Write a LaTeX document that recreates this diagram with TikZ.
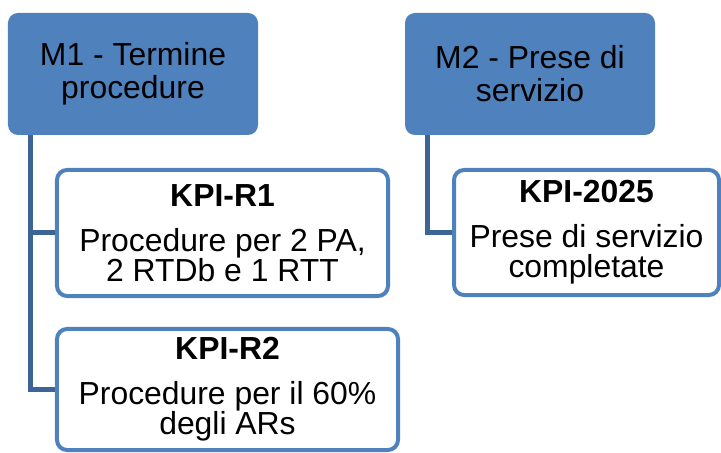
\documentclass[tikz,border=0pt]{standalone}
\usepackage{fontspec}
\setmainfont{Liberation Sans}
\definecolor{accentblue}{HTML}{4F81BD}
\definecolor{linkblue}{HTML}{3C6494}

\begin{document}
\begin{tikzpicture}[x=1bp, y=-1bp,
    goal/.style = {fill=accentblue, rounded corners=10bp, align=center,
                   minimum width=250bp, minimum height=122bp, inner sep=0pt,
                   font=\fontsize{32}{33}\selectfont},
    kpi/.style = {draw=accentblue, line width=4bp, fill=white, rounded corners=10bp,
                  align=center, inner sep=0pt, font=\fontsize{32}{30}\selectfont},
    link/.style = {draw=linkblue, line width=5bp}]
    \useasboundingbox (0,0) rectangle (721,453);

    % Goals
    \node[goal] (m1) at (133,74) {M1 - Termine\\procedure};
    \node[goal] (m2) at (530,74) {M2 - Prese di\\servizio};

    % KPIs under M1
    \node[kpi, minimum width=331bp, minimum height=126bp] (r1) at (222.5,233)
        {\textbf{KPI-R1}\\[15bp]Procedure per 2 PA,\\2 RTDb e 1 RTT};
    \node[kpi, minimum width=341bp, minimum height=121bp] (r2) at (227.5,389.5)
        {\textbf{KPI-R2}\\[15bp]Procedure per il 60\%\\degli ARs};

    % KPI under M2
    \node[kpi, minimum width=265bp, minimum height=125bp] (k25) at (586.5,232.5)
        {\textbf{KPI-2025}\\[15bp]Prese di servizio\\completate};

    % Links
    \draw[link] ([xshift=23bp]m1.south west) |- (r1.west);
    \draw[link] ([xshift=23bp]m1.south west) |- (r2.west);
    \draw[link] ([xshift=23bp]m2.south west) |- (k25.west);
\end{tikzpicture}
\end{document}
